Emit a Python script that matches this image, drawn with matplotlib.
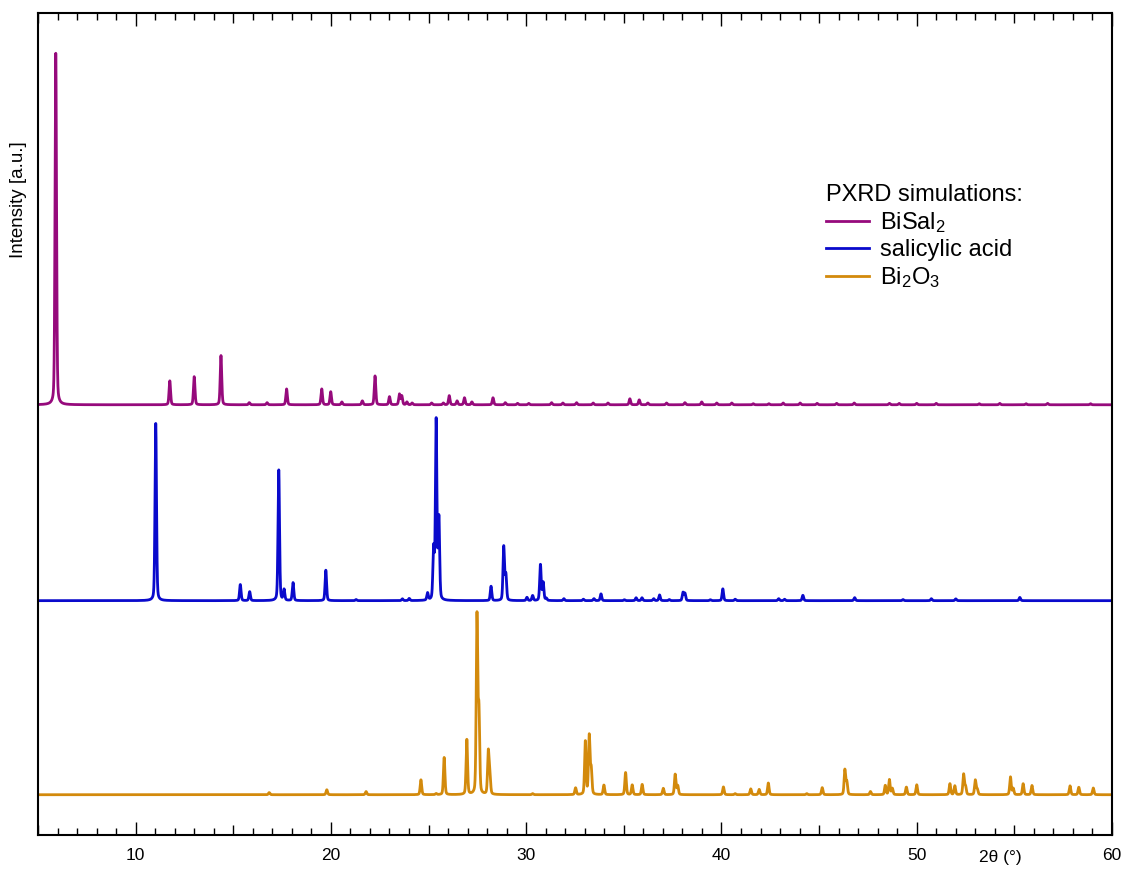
import numpy as np
import matplotlib
matplotlib.use("Agg")
import matplotlib.pyplot as plt
from matplotlib.ticker import FixedLocator, FuncFormatter

plt.rcParams['font.family'] = ['Liberation Sans', 'DejaVu Sans']
plt.rcParams['mathtext.default'] = 'regular'

# simulated reflections: 2theta positions (deg) and relative intensities (%)
bisal_pos = [5.91, 11.75, 13.0, 14.37, 15.82, 16.73, 17.73, 19.53, 19.99, 20.56,
             21.61, 22.26, 23.0, 23.51, 23.63, 23.89, 24.16, 25.16, 25.76, 26.06,
             26.46, 26.84, 27.22, 28.3, 28.93, 29.56, 30.13, 31.3, 31.88, 32.58,
             33.43, 34.19, 35.31, 35.79, 36.23, 37.19, 38.13, 38.99, 39.76, 40.53,
             41.63, 42.43, 43.16, 44.03, 44.9, 45.9, 46.8, 48.6, 49.1, 50.0,
             51.0, 53.2, 54.25, 55.6, 56.7, 58.9]
bisal_int = [100, 6.8, 8.0, 14.0, 0.6, 0.6, 4.5, 4.5, 3.7, 0.8,
             1.1, 8.2, 2.3, 3.0, 2.5, 0.8, 0.5, 0.5, 0.5, 2.6,
             1.1, 2.0, 0.8, 2.0, 0.6, 0.4, 0.4, 0.6, 0.5, 0.6,
             0.5, 0.5, 1.7, 1.4, 0.5, 0.5, 0.6, 0.8, 0.5, 0.5,
             0.3, 0.3, 0.5, 0.5, 0.4, 0.4, 0.5, 0.4, 0.4, 0.4,
             0.4, 0.3, 0.4, 0.3, 0.4, 0.3]

sal_pos = [11.03, 15.36, 15.84, 17.33, 17.6, 18.06, 19.74, 21.29, 23.66, 24.01,
           24.95, 25.26, 25.39, 25.53, 28.2, 28.85, 28.96, 30.04, 30.33, 30.73,
           30.87, 31.03, 31.93, 32.93, 33.47, 33.83, 35.03, 35.63, 35.93, 36.53,
           36.83, 37.33, 38.03, 38.13, 39.43, 40.07, 40.7, 42.93, 43.23, 44.17,
           46.82, 49.3, 50.75, 52.0, 55.28]
sal_int = [99, 9.0, 5.0, 73, 6.0, 10.0, 17.0, 0.6, 1.0, 1.2,
           4.0, 28, 100, 45, 8.0, 30, 14, 1.8, 2.8, 20,
           10, 1.2, 1.1, 0.8, 1.1, 3.8, 0.5, 1.6, 1.6, 1.1,
           3.2, 0.6, 4.5, 4.0, 0.5, 6.6, 0.8, 1.1, 0.8, 3.0,
           1.7, 0.6, 1.1, 1.0, 1.8]

bi2o3_pos = [16.84, 19.79, 21.8, 24.61, 25.39, 25.8, 26.96, 27.48, 27.58, 28.06,
             28.14, 30.33, 32.53, 33.03, 33.23, 33.33, 33.98, 35.09, 35.43, 35.94,
             37.02, 37.63, 37.76, 40.1, 40.7, 41.5, 41.93, 42.4, 44.37, 45.16,
             46.32, 46.42, 47.63, 48.39, 48.6, 48.75, 49.47, 50.0, 51.7, 51.95,
             52.4, 52.5, 53.0, 53.1, 54.8, 54.94, 55.45, 55.9, 57.85, 58.3,
             59.04]
bi2o3_int = [1.2, 2.8, 1.8, 8.4, 0.6, 21, 31, 100, 45, 24,
             10, 0.6, 3.8, 30, 33, 14, 5.4, 12.5, 5.5, 5.8,
             3.6, 11.5, 5.0, 4.4, 0.6, 3.3, 3.0, 6.6, 0.6, 4.0,
             14, 7, 1.8, 5.2, 8.5, 3.5, 4.3, 5.6, 6.2, 5.0,
             11.5, 4.5, 8.2, 3.0, 10, 3.5, 6.2, 5.2, 5.0, 4.2,
             3.8]

labels = ['BiSal$_2$', 'salicylic acid', 'Bi$_2$O$_3$']
colors = ['#960A7C', '#0A0ACC', '#D38A0C']
offsets = [235, 128, 22]
scales = [1.92, 1.0, 1.0]


def pattern(tt, pos, inten, fwhm=0.09, eta=0.3):
    """Pseudo-Voigt profile built from a list of reflections, max scaled to 100."""
    y = np.zeros_like(tt)
    s = fwhm / 2.355
    g = fwhm / 2
    for p, h in zip(pos, inten):
        gauss = np.exp(-0.5 * ((tt - p) / s) ** 2)
        lor = g ** 2 / ((tt - p) ** 2 + g ** 2)
        y += h * ((1 - eta) * gauss + eta * lor)
    return 100 * y / y.max()


tt = np.arange(5.0, 60.0, 0.005)
series = [(bisal_pos, bisal_int), (sal_pos, sal_int), (bi2o3_pos, bi2o3_int)]

fig = plt.figure(figsize=(11.27, 8.73), dpi=100)
ax = fig.add_axes([38 / 1127, 1 - 835 / 873, (1112 - 38) / 1127, 822 / 873])

for (pos, inten), lab, col, off, sc in zip(series, labels, colors, offsets, scales):
    ax.plot(tt, off + sc * pattern(tt, pos, inten), color=col, lw=2.0, label=lab)

ax.set_xlim(5, 60)
ax.set_ylim(0, 449)
ax.set_yticks([])

major = [5, 10, 15, 20, 25, 30, 35, 40, 45, 50, 55, 60]
ax.xaxis.set_major_locator(FixedLocator(major))
ax.xaxis.set_minor_locator(FixedLocator([v for v in range(6, 60) if v % 5]))
ax.xaxis.set_major_formatter(FuncFormatter(
    lambda v, _: f'{v:.0f}' if v % 10 == 0 else ''))
ax.tick_params(axis='x', which='both', direction='in', top=True, bottom=True,
               width=1.0, labelsize=12.5, pad=9)
ax.tick_params(axis='x', which='major', length=9.5)
ax.tick_params(axis='x', which='minor', length=5)
for v, tick in zip(major, ax.xaxis.get_major_ticks()):
    if v % 10:
        tick.tick1line.set_markersize(7.2)
        tick.tick2line.set_markersize(7.2)

for sp in ax.spines.values():
    sp.set_linewidth(1.5)

ax.text(0.896, -0.027, '2θ (°)', transform=ax.transAxes, fontsize=12.5,
        ha='center', va='center')
fig.text(19 / 1127, 1 - 200 / 873, 'Intensity [a.u.]', rotation=90,
         fontsize=13.5, ha='center', va='center')

leg = ax.legend(title='PXRD simulations:', loc='upper left',
                bbox_to_anchor=(0.725, 0.804), frameon=False, fontsize=17,
                title_fontsize=17, handlelength=1.8, handletextpad=0.47,
                labelspacing=0.18, borderaxespad=0)
leg._legend_box.align = 'left'

fig.savefig('out.png', dpi=100)
